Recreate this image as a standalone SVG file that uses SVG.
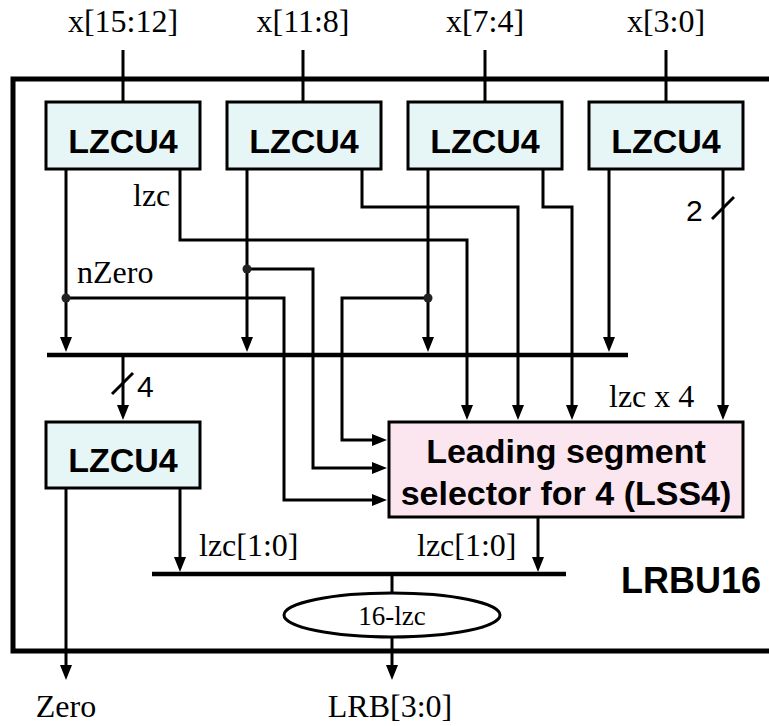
<svg xmlns="http://www.w3.org/2000/svg" width="769" height="726" viewBox="0 0 769 726">
<style>
.w{fill:none;stroke:#000;stroke-width:3}
.bus{fill:none;stroke:#000;stroke-width:4.5}
.a{marker-end:url(#ah)}
.blk{stroke:#000;stroke-width:3}
.lz{fill:#e6f5f6}
.ls{fill:#fbe6ef}
.bt{font-family:"Liberation Sans",Arial,sans-serif;font-weight:bold;font-size:34px;text-anchor:middle;fill:#000}
.sf{font-family:"Liberation Serif","Times New Roman",serif;font-size:32px;fill:#000}
.ss{font-family:"Liberation Sans",Arial,sans-serif;font-size:30px;fill:#000}
</style>
<defs>
<marker id="ah" viewBox="0 0 15 12" refX="5" refY="6" markerWidth="15" markerHeight="12" markerUnits="userSpaceOnUse" orient="auto">
<path d="M0,0 L15,6 L0,12 Z" fill="#000"/>
</marker>
</defs>
<rect width="769" height="726" fill="#fff"/>
<rect id="LRBU16" x="13" y="79" width="800" height="572" fill="none" stroke="#000" stroke-width="5"/>
<text class="bt" x="621" y="593" style="text-anchor:start;font-size:36px">LRBU16</text>

<g id="connectors">
<path class="w" d="M123,50 V102 M303,50 V102 M485,50 V102 M666,50 V102"/>
<path class="w a" d="M66,169 V342"/>
<path class="w a" d="M247,169 V342"/>
<path class="w a" d="M428,169 V342"/>
<path class="w a" d="M609,169 V342"/>
<path class="bus" d="M47,355 H628"/>
<path class="w a" d="M180,169 V240 H467 V410"/>
<path class="w a" d="M362,169 V207 H518 V410"/>
<path class="w a" d="M543,169 V207 H572 V410"/>
<path class="w a" d="M723,169 V410"/>
<path class="w" d="M712,219 L734,197"/>
<path class="w a" d="M66,298 H284 V500 H377"/>
<path class="w a" d="M247,269 H313 V468 H377"/>
<path class="w a" d="M428,298 H342 V440 H377"/>
<circle cx="66" cy="298" r="4.5" fill="#222"/>
<circle cx="247" cy="269" r="4.5" fill="#222"/>
<circle cx="428" cy="298" r="4.5" fill="#222"/>
<path class="w a" d="M123,355 V410"/>
<path class="w" d="M112,394 L133,373"/>
<path class="w a" d="M66,488 V670"/>
<path class="w a" d="M180,488 V562"/>
<path class="w a" d="M538,517 V562"/>
<path class="bus" d="M152,574 H566"/>
<path class="w" d="M392,574 V593"/>
<path class="w a" d="M392,637 V670"/>
</g>

<g id="n1"><rect class="blk lz" x="46" y="102" width="154" height="67"/><text class="bt" x="123" y="153">LZCU4</text></g>
<g id="n2"><rect class="blk lz" x="227" y="102" width="154" height="67"/><text class="bt" x="304" y="153">LZCU4</text></g>
<g id="n3"><rect class="blk lz" x="408" y="102" width="154" height="67"/><text class="bt" x="485" y="153">LZCU4</text></g>
<g id="n4"><rect class="blk lz" x="589" y="102" width="154" height="67"/><text class="bt" x="666" y="153">LZCU4</text></g>
<g id="n5"><rect class="blk lz" x="46" y="422" width="154" height="66"/><text class="bt" x="123" y="472">LZCU4</text></g>
<g id="lss4"><rect class="blk ls" x="389" y="422" width="354" height="95"/>
<text class="bt" x="566" y="463">Leading segment</text>
<text class="bt" x="566" y="505">selector for 4 (LSS4)</text></g>
<g id="sub"><ellipse cx="392" cy="615" rx="108" ry="22" fill="#fff" stroke="#000" stroke-width="3"/>
<text class="sf" x="392" y="625" text-anchor="middle" style="font-size:27px">16-lzc</text></g>

<g id="labels">
<text class="sf" x="123" y="32" text-anchor="middle">x[15:12]</text>
<text class="sf" x="303" y="32" text-anchor="middle">x[11:8]</text>
<text class="sf" x="485" y="32" text-anchor="middle">x[7:4]</text>
<text class="sf" x="666" y="32" text-anchor="middle">x[3:0]</text>
<text class="sf" x="133" y="206">lzc</text>
<text class="sf" x="77" y="283">nZero</text>
<text class="ss" x="137" y="397">4</text>
<text class="ss" x="686" y="221">2</text>
<text class="sf" x="609" y="407">lzc x 4</text>
<text class="sf" x="199" y="556">lzc[1:0]</text>
<text class="sf" x="417" y="556">lzc[1:0]</text>
<text class="sf" x="66" y="717" text-anchor="middle">Zero</text>
<text class="sf" x="390" y="717" text-anchor="middle">LRB[3:0]</text>
</g>
</svg>
